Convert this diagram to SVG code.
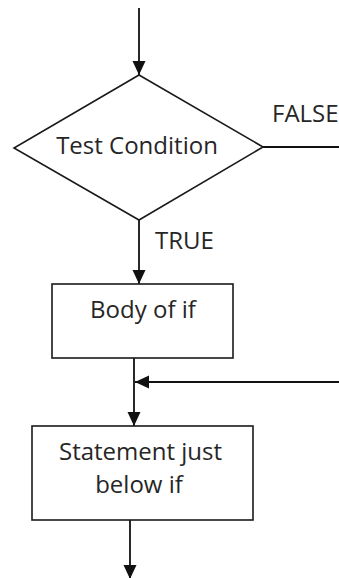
<svg xmlns="http://www.w3.org/2000/svg" width="339" height="578" viewBox="0 0 339 578">
  <style>
    .shape { fill: #ffffff; stroke: #1a1a1a; stroke-width: 1.6; }
    .line { fill: none; stroke: #111111; stroke-width: 1.8; }
    .label { font-family: "Open Sans", "Liberation Sans", sans-serif; font-size: 24px; fill: #262626; }
  </style>
  <defs>
    <marker id="arrow" markerUnits="userSpaceOnUse" markerWidth="16" markerHeight="14" refX="14" refY="6.5" orient="auto">
      <path d="M0,0 L14,6.5 L0,13 Z" fill="#111111"/>
    </marker>
  </defs>
  <rect width="339" height="578" fill="#ffffff"/>

  <g id="connectors">
    <line class="line" x1="139" y1="8" x2="139" y2="75" marker-end="url(#arrow)"/>
    <line class="line" x1="263" y1="147" x2="339" y2="147"/>
    <line class="line" x1="139" y1="220" x2="139" y2="284" marker-end="url(#arrow)"/>
    <line class="line" x1="134" y1="358" x2="134" y2="426" marker-end="url(#arrow)"/>
    <line class="line" x1="339" y1="382" x2="135" y2="382" marker-end="url(#arrow)"/>
    <line class="line" x1="130" y1="520" x2="130" y2="579" marker-end="url(#arrow)"/>
    <text class="label" x="272" y="122">FALSE</text>
    <text class="label" x="155" y="249">TRUE</text>
  </g>

  <g id="test-condition">
    <polygon class="shape" points="139,75 263,147 139,220 14,148"/>
    <text class="label" x="137" y="154" text-anchor="middle">Test Condition</text>
  </g>

  <g id="body-of-if">
    <rect class="shape" x="52" y="284" width="181" height="74"/>
    <text class="label" x="143" y="318" text-anchor="middle">Body of if</text>
  </g>

  <g id="statement-below-if">
    <rect class="shape" x="32" y="426" width="221" height="94"/>
    <text class="label" x="140.5" y="460" text-anchor="middle">Statement just</text>
    <text class="label" x="139" y="493" text-anchor="middle">below if</text>
  </g>
</svg>
